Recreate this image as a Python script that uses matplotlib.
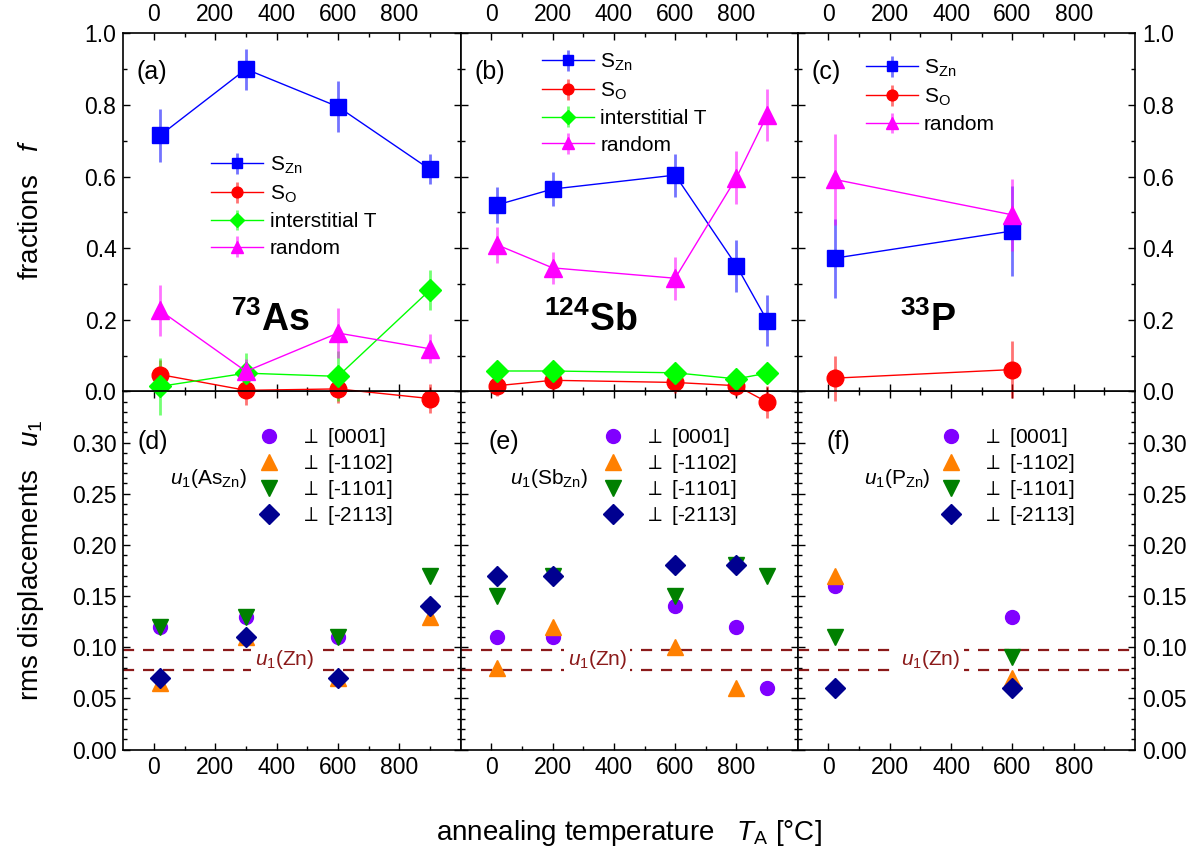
import matplotlib.pyplot as plt
from matplotlib.ticker import FixedLocator, MultipleLocator

plt.rcParams['font.family'] = ['Liberation Sans', 'DejaVu Sans']
plt.rcParams['mathtext.fontset'] = 'custom'
plt.rcParams['mathtext.rm'] = 'Liberation Sans'
plt.rcParams['mathtext.it'] = 'Liberation Sans:italic'
plt.rcParams['mathtext.bf'] = 'Liberation Sans:bold'

# ---- fractions, top row ----
as_T = [20, 300, 600, 900]
as_szn = [0.715, 0.90, 0.795, 0.62]
as_szn_err = [0.073, 0.057, 0.072, 0.042]
as_so = [0.047, 0.003, 0.007, -0.02]
as_so_err = [0.04, 0.04, 0.04, 0.04]
as_int = [0.014, 0.051, 0.042, 0.283]
as_int_err = [0.08, 0.057, 0.07, 0.055]
as_rnd = [0.226, 0.056, 0.163, 0.119]
as_rnd_err = [0.07, 0.035, 0.07, 0.04]

sb_T = [20, 200, 600, 800, 900]
sb_szn = [0.521, 0.565, 0.604, 0.351, 0.198]
sb_szn_err = [0.05, 0.047, 0.06, 0.073, 0.072]
sb_so = [0.016, 0.031, 0.025, 0.016, -0.03]
sb_so_err = [0.03, 0.03, 0.03, 0.03, 0.045]
sb_int = [0.057, 0.057, 0.052, 0.035, 0.051]
sb_int_err = [0.01, 0.01, 0.01, 0.01, 0.01]
sb_rnd = [0.409, 0.345, 0.316, 0.597, 0.772]
sb_rnd_err = [0.05, 0.045, 0.06, 0.073, 0.072]

p_T = [20, 600]
p_szn = [0.372, 0.448]
p_szn_err = [0.11, 0.125]
p_so = [0.037, 0.061]
p_so_err = [0.063, 0.08]
p_rnd = [0.592, 0.493]
p_rnd_err = [0.127, 0.1]

# ---- rms displacements u1, bottom row ----
as_u_0001 = [0.12, 0.13, 0.11, 0.14]
as_u_1102 = [0.065, 0.11, 0.07, 0.13]
as_u_1101 = [0.12, 0.13, 0.11, 0.17]
as_u_2113 = [0.07, 0.11, 0.07, 0.14]

sb_u_0001 = [0.11, 0.11, 0.14, 0.12, 0.06]
sb_u_T1102 = [20, 200, 600, 800]
sb_u_1102 = [0.08, 0.12, 0.10, 0.06]
sb_u_1101 = [0.15, 0.17, 0.15, 0.18, 0.17]
sb_u_T2113 = [20, 200, 600, 800]
sb_u_2113 = [0.17, 0.17, 0.18, 0.18]

p_u_0001 = [0.16, 0.13]
p_u_1102 = [0.17, 0.07]
p_u_1101 = [0.11, 0.09]
p_u_2113 = [0.06, 0.06]

u1_zn = [0.078, 0.097]

fig, axes = plt.subplots(2, 3, figsize=(11.94, 8.56), dpi=100)
fig.subplots_adjust(left=0.1033, right=0.9506, top=0.9611, bottom=0.1244,
                    wspace=0, hspace=0)

BLUE, RED, GREEN, MAG = '#0000ff', '#ff0000', '#00ff00', '#ff00ff'


def frac(ax, x, y, err, color, marker, ms, label):
    c = ax.errorbar(x, y, yerr=err, color=color, marker=marker, ms=ms, lw=1,
                    elinewidth=2, ecolor=color, capsize=0, label=label,
                    markeredgecolor=color)
    c[0].set_clip_on(False)
    for b in c[2]:
        b.set_clip_on(False)
        b.set_alpha(0.55)
    return c


leg_kw = dict(loc='upper left', frameon=False, fontsize=15, handlelength=2.5,
              markerscale=0.65, labelspacing=0.36, borderpad=0,
              handletextpad=0.3)

ax = axes[0, 0]
frac(ax, as_T, as_szn, as_szn_err, BLUE, 's', 12, r'S$_{\rm Zn}$')
frac(ax, as_T, as_so, as_so_err, RED, 'o', 12, r'S$_{\rm O}$')
frac(ax, as_T, as_int, as_int_err, GREEN, 'D', 11, 'interstitial T')
frac(ax, as_T, as_rnd, as_rnd_err, MAG, '^', 13, 'random')
ax.legend(bbox_to_anchor=(0.23, 0.69), **leg_kw)

ax = axes[0, 1]
frac(ax, sb_T, sb_szn, sb_szn_err, BLUE, 's', 12, r'S$_{\rm Zn}$')
frac(ax, sb_T, sb_so, sb_so_err, RED, 'o', 12, r'S$_{\rm O}$')
frac(ax, sb_T, sb_int, sb_int_err, GREEN, 'D', 11, 'interstitial T')
frac(ax, sb_T, sb_rnd, sb_rnd_err, MAG, '^', 13, 'random')
ax.legend(bbox_to_anchor=(0.21, 0.978), **leg_kw)

ax = axes[0, 2]
frac(ax, p_T, p_szn, p_szn_err, BLUE, 's', 12, r'S$_{\rm Zn}$')
frac(ax, p_T, p_so, p_so_err, RED, 'o', 12, r'S$_{\rm O}$')
frac(ax, p_T, p_rnd, p_rnd_err, MAG, '^', 13, 'random')
ax.legend(bbox_to_anchor=(0.17, 0.961), **leg_kw)

PURP, ORNG, DGRN, NAVY = '#8000ff', '#ff8000', '#008000', '#000090'
labels_u = [r'$\perp$ [0001]', r'$\perp$ [-1102]', r'$\perp$ [-1101]', r'$\perp$ [-2113]']


def rms(ax, x0, y0, x1, y1, x2, y2, x3, y3):
    ax.plot(x0, y0, 'o', color=PURP, ms=10, ls='none', label=labels_u[0])
    ax.plot(x1, y1, '^', color=ORNG, ms=12, ls='none', label=labels_u[1])
    ax.plot(x2, y2, 'v', color=DGRN, ms=12, ls='none', label=labels_u[2])
    ax.plot(x3, y3, 'D', color=NAVY, ms=10, ls='none', label=labels_u[3])


rms(axes[1, 0], as_T, as_u_0001, as_T, as_u_1102, as_T, as_u_1101, as_T, as_u_2113)
rms(axes[1, 1], sb_T, sb_u_0001, sb_u_T1102, sb_u_1102, sb_T, sb_u_1101,
    sb_u_T2113, sb_u_2113)
rms(axes[1, 2], p_T, p_u_0001, p_T, p_u_1102, p_T, p_u_1101, p_T, p_u_2113)

sub_labels = [r'$u_1$(As$_{\rm Zn}$)', r'$u_1$(Sb$_{\rm Zn}$)', r'$u_1$(P$_{\rm Zn}$)']
sub_x = [0.139, 0.148, 0.197]
leg_x = [0.37, 0.39, 0.392]
zn_x = [426, 346, 333]
for i, ax in enumerate(axes[1]):
    ax.legend(loc='upper left', bbox_to_anchor=(leg_x[i], 0.932), frameon=False,
              fontsize=15, handlelength=1.0, handletextpad=1.0,
              labelspacing=0.14, borderpad=0)
    ax.text(sub_x[i], 0.758, sub_labels[i], transform=ax.transAxes,
            fontsize=15, va='center', ha='left')
    for v in u1_zn:
        ax.axhline(v, color='#8b1a1a', ls=(0, (5, 4)), lw=1.6, zorder=0)
    ax.text(zn_x[i], sum(u1_zn) / 2, r'$u_1$(Zn)', color='#8b1a1a',
            fontsize=15, ha='center', va='center', zorder=1,
            bbox=dict(fc='white', ec='none', pad=2.5))

# panel letters and isotope names
letters = ['(a)', '(b)', '(c)', '(d)', '(e)', '(f)']
letter_x = [0.04, 0.04, 0.04, 0.043, 0.083, 0.084]
for i, ax in enumerate(axes.flat):
    y = 0.892 if i < 3 else 0.859
    ax.text(letter_x[i], y, letters[i], transform=ax.transAxes, fontsize=18,
            va='center', ha='left')

iso = [r'$\mathbf{^{73}As}$', r'$\mathbf{^{124}Sb}$', r'$\mathbf{^{33}P}$']
iso_x = [380, 326, 326]
for i, ax in enumerate(axes[0]):
    ax.text(iso_x[i], 0.2, iso[i], fontsize=27, ha='center', va='center')

for r in range(2):
    for c in range(3):
        ax = axes[r, c]
        ax.set_xlim(-100, 1000)
        ax.xaxis.set_major_locator(FixedLocator([0, 200, 400, 600, 800]))
        ax.xaxis.set_minor_locator(FixedLocator([100, 300, 500, 700, 900]))
        if r == 0:
            ax.set_ylim(0, 1.0)
            ax.yaxis.set_major_locator(MultipleLocator(0.2))
            ax.yaxis.set_minor_locator(MultipleLocator(0.1))
            ax.set_zorder(3)
        else:
            ax.set_ylim(0, 0.35)
            ax.yaxis.set_major_locator(FixedLocator([0, 0.05, 0.10, 0.15, 0.20, 0.25, 0.30]))
            ax.yaxis.set_minor_locator(MultipleLocator(0.01))
            ax.yaxis.set_major_formatter(plt.FuncFormatter(lambda v, p: '%.2f' % v))
            ax.set_zorder(1)
        ax.tick_params(which='both', direction='in', top=True, right=True,
                       labelsize=16.5, pad=5)
        ax.tick_params(which='major', length=5, width=1)
        ax.tick_params(which='minor', length=3, width=1)
        ax.tick_params(labeltop=(r == 0), labelbottom=(r == 1),
                       labelleft=(c == 0), labelright=(c == 2))
        for s in ax.spines.values():
            s.set_linewidth(1.2)

fig.text(0.026, 1 - 210 / 856, r'fractions   $f$', rotation=90, fontsize=20,
         ha='center', va='center')
fig.text(0.026, 1 - 560 / 856, r'rms displacements   $u_1$', rotation=90,
         fontsize=20, ha='center', va='center')
fig.text(0.527, 1 - 833 / 856, r'annealing temperature   $T_{\rm A}$ [°C]',
         fontsize=20, ha='center', va='center')

plt.savefig('out.png', dpi=100)
